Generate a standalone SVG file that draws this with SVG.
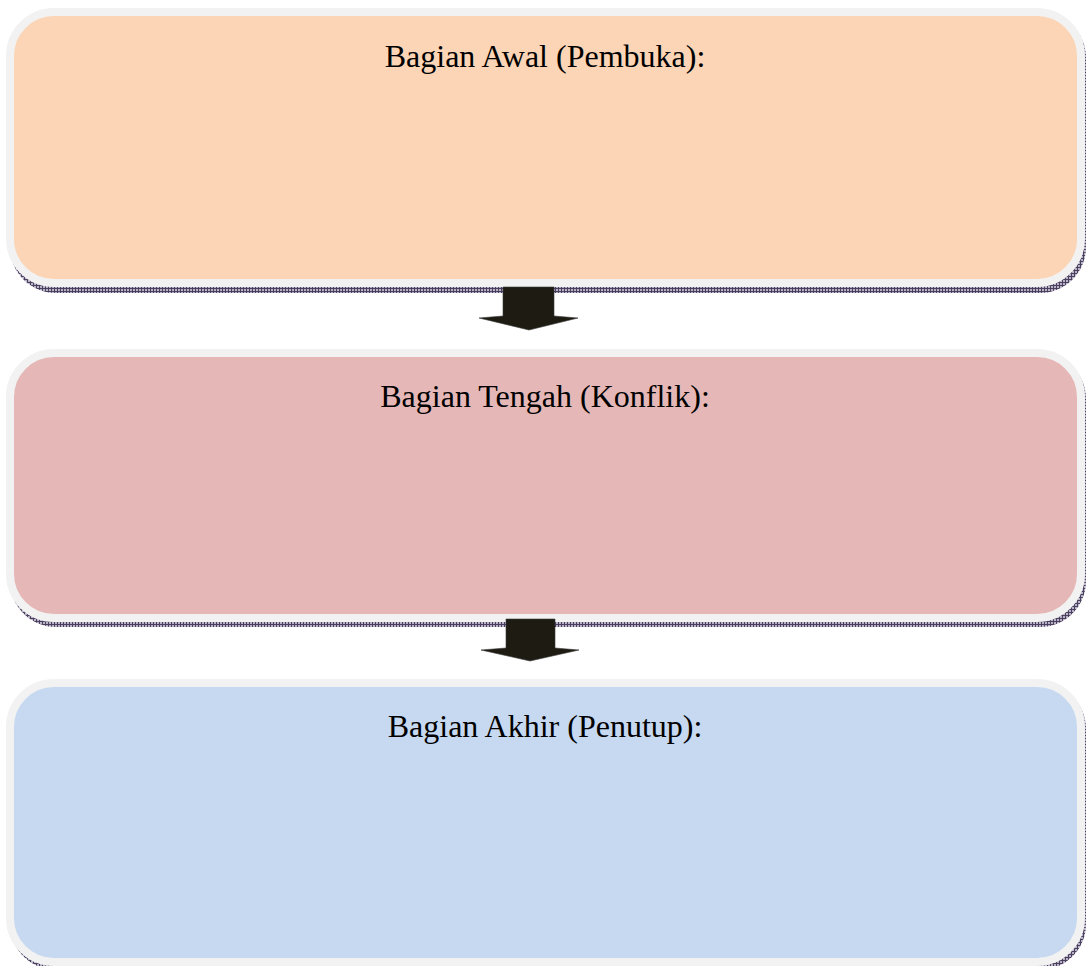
<svg xmlns="http://www.w3.org/2000/svg" width="1086" height="966" viewBox="0 0 1086 966">
<defs>
<pattern id="hatch" width="3" height="3" patternUnits="userSpaceOnUse">
<rect width="3" height="3" fill="#b9b3c6"/>
<path d="M0 0.5H3M0.5 0V3" stroke="#4a3f5e" stroke-width="1"/>
</pattern>
<style>
.shadow{fill:url(#hatch);}
.box{stroke:#f2f2f2;stroke-width:8;}
.lbl{font-family:"Liberation Serif","Times New Roman",serif;font-size:32px;fill:#000;text-anchor:middle;}
.arrow{fill:#1d1b12;stroke:#3a3a3a;stroke-width:0.6;}
</style>
</defs>
<rect width="1086" height="966" fill="#ffffff"/>
<g id="node1">
<rect class="shadow" x="10" y="12" width="1076" height="281" rx="46"/>
<rect class="box" x="10" y="12" width="1071" height="271" rx="44" fill="#fbd5b5"/>
<text class="lbl" x="545" y="67">Bagian Awal (Pembuka):</text>
</g>
<g id="node2">
<rect class="shadow" x="10" y="353" width="1076" height="274" rx="46"/>
<rect class="box" x="10" y="353" width="1071" height="265" rx="44" fill="#e5b8b7"/>
<text class="lbl" x="545" y="407">Bagian Tengah (Konflik):</text>
</g>
<g id="node3">
<rect class="shadow" x="10" y="683" width="1076" height="287" rx="46"/>
<rect class="box" x="10" y="683" width="1071" height="279" rx="44" fill="#c6d9f1"/>
<text class="lbl" x="545" y="737">Bagian Akhir (Penutup):</text>
</g>
<g id="connectors">
<polygon class="arrow" points="503,287 554,287 554,316 578,318 529,330 479,318 503,316"/>
<polygon class="arrow" points="506,619 555,619 555,648 579,650 530,661 481,650 506,648"/>
</g>
</svg>
